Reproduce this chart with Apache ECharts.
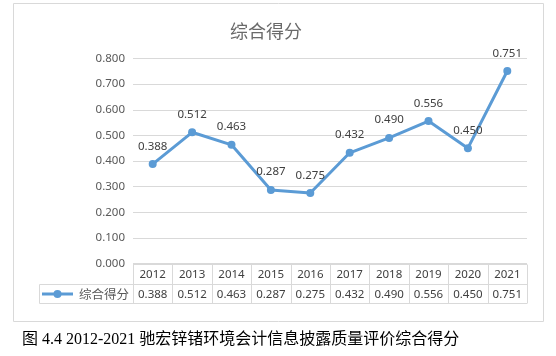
<!DOCTYPE html>
<html><head><meta charset="utf-8">
<script src="https://cdn.jsdelivr.net/npm/echarts@6/dist/echarts.min.js"></script>
<style>html,body{margin:0;padding:0;background:#fff}#c{width:556px;height:356px}</style>
</head><body><div id="c"></div>
<script>
const years = ['2012','2013','2014','2015','2016','2017','2018','2019','2020','2021'];
const scores = [0.388,0.512,0.463,0.287,0.275,0.432,0.490,0.556,0.450,0.751];
const seriesName = '综合得分';
const chartTitle = '综合得分';
const caption = '图 4.4 2012-2021 驰宏锌锗环境会计信息披露质量评价综合得分';

const chart = echarts.init(document.getElementById('c'), null, {renderer:'canvas'});
const font = '"Noto Sans", "Noto Sans CJK SC", sans-serif';
const gridL = 133, gridR = 527, gridT = 58.5, gridB = 263.5;
chart.setOption({
  animation:false,
  title:{text:chartTitle,left:261,top:17,textAlign:'center',
    textStyle:{fontFamily:'"Noto Sans CJK SC", sans-serif',fontSize:18,fontWeight:'normal',color:'#6a6a6a'}},
  grid:{left:gridL,right:556-gridR,top:gridT,bottom:356-gridB,containLabel:false},
  xAxis:{type:'category',data:years,boundaryGap:true,
    axisLine:{show:false},axisTick:{show:false},axisLabel:{show:false}},
  yAxis:{type:'value',min:0,max:0.8,interval:0.1,
    axisLine:{show:false},axisTick:{show:false},
    axisLabel:{margin:8,fontFamily:font,fontSize:11.5,color:'#595959',formatter:v=>v.toFixed(3)},
    splitLine:{lineStyle:{color:'#d9d9d9',width:1}}},
  series:[{name:seriesName,type:'line',data:scores,
    lineStyle:{color:'#5b9bd5',width:3},
    itemStyle:{color:'#5b9bd5'},symbol:'circle',symbolSize:8,
    label:{show:true,position:'top',distance:8,fontFamily:font,fontSize:11.5,color:'#404040',
      formatter:p=>p.value.toFixed(3)}}]
});

function buildGraphics(){
  const els = [];
  const border = '#d9d9d9';
  els.push({type:'rect',shape:{x:13.5,y:3.5,width:530,height:318},style:{fill:null,stroke:border,lineWidth:1},silent:true});
  const cw = (gridR-gridL)/years.length;
  const r1t = 264.5, r1b = 284.5, r2b = 303.5, legL = 39.5;
  const tText = {fontFamily:font,fontSize:11.5,fill:'#404040'};
  els.push({type:'line',shape:{x1:gridL,y1:r1t,x2:gridR,y2:r1t},style:{stroke:border,lineWidth:1}});
  els.push({type:'line',shape:{x1:legL,y1:r1b,x2:gridR,y2:r1b},style:{stroke:border,lineWidth:1}});
  els.push({type:'line',shape:{x1:legL,y1:r2b,x2:gridR,y2:r2b},style:{stroke:border,lineWidth:1}});
  els.push({type:'line',shape:{x1:legL,y1:r1b,x2:legL,y2:r2b},style:{stroke:border,lineWidth:1}});
  years.forEach((y,i)=>{
    const cx = chart.convertToPixel({xAxisIndex:0}, y);
    const x0 = Math.round(cx - cw/2)+0.5;
    els.push({type:'line',shape:{x1:x0,y1:r1t,x2:x0,y2:r2b},style:{stroke:border,lineWidth:1}});
    els.push({type:'text',x:cx,y:(r1t+r1b)/2+0.5,style:Object.assign({text:y,align:'center',verticalAlign:'middle'},tText)});
    els.push({type:'text',x:cx,y:(r1b+r2b)/2+0.5,style:Object.assign({text:scores[i].toFixed(3),align:'center',verticalAlign:'middle'},tText)});
  });
  els.push({type:'line',shape:{x1:gridR+0.5,y1:r1t,x2:gridR+0.5,y2:r2b},style:{stroke:border,lineWidth:1}});
  const ly = (r1b+r2b)/2;
  els.push({type:'line',shape:{x1:42,y1:ly,x2:73,y2:ly},style:{stroke:'#5b9bd5',lineWidth:3}});
  els.push({type:'circle',shape:{cx:57.5,cy:ly,r:4},style:{fill:'#5b9bd5'}});
  els.push({type:'text',x:79,y:ly+0.5,style:{text:seriesName,fontFamily:'"Noto Sans CJK SC", sans-serif',fontSize:12.5,fill:'#595959',align:'left',verticalAlign:'middle'}});
  els.push({type:'text',x:22,y:340,style:{text:caption,fontFamily:'"Liberation Serif", "Noto Sans CJK SC", serif',fontSize:16,fill:'#000',align:'left',verticalAlign:'middle'}});
  chart.setOption({graphic:{elements:els}});
}
buildGraphics();
</script></body></html>
